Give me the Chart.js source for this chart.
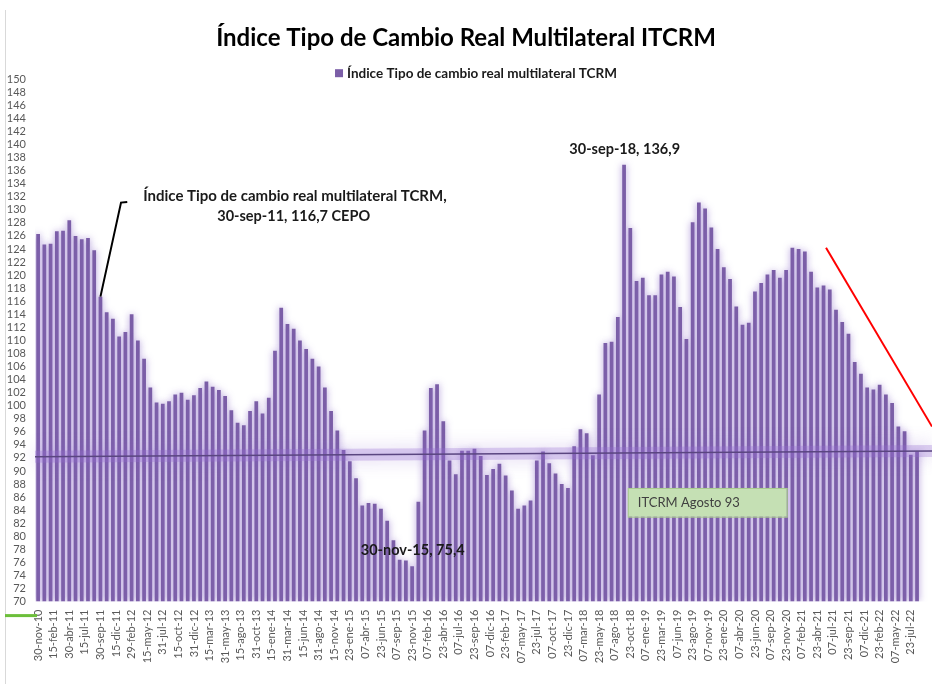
<!DOCTYPE html>
<html lang="es">
<head>
    <meta charset="UTF-8">
    <title>Índice Tipo de Cambio Real Multilateral ITCRM</title>
    <script src="https://cdn.jsdelivr.net/npm/chart.js"></script>
    <style>
        html, body { margin: 0; padding: 0; background: #ffffff; }
        #wrap { position: relative; width: 932px; height: 684px; }
    </style>
</head>
<body>
<div id="wrap"><canvas id="itcrmChart"></canvas></div>
<script>
    // Serie mensual nov-10 .. ago-22
    const valores = [
        126.3, 124.7, 124.8, 126.7, 126.8, 128.4, 126.0, 125.5, 125.7, 123.8,
        116.7, 114.3, 113.3, 110.6, 111.3, 114.0, 110.0, 107.2, 102.8, 100.5,
        100.3, 100.7, 101.7, 102.0, 100.9, 101.6, 102.7, 103.7, 102.9, 102.4,
        101.5, 99.3, 97.4, 97.0, 99.2, 100.7, 98.8, 101.2, 108.4, 115.0,
        112.5, 111.8, 110.0, 108.7, 107.2, 106.0, 102.8, 99.2, 96.2, 93.2,
        91.5, 88.9, 84.7, 85.1, 85.0, 84.2, 82.4, 79.4, 76.4, 76.3,
        75.4, 85.3, 96.2, 102.7, 103.3, 97.6, 91.6, 89.5, 93.1, 93.1,
        93.4, 92.3, 89.4, 90.3, 91.1, 89.3, 87.0, 84.2, 84.7, 85.5,
        91.6, 93.0, 91.2, 89.6, 88.0, 87.4, 93.8, 96.4, 95.8, 92.4,
        101.7, 109.6, 109.8, 113.6, 136.9, 127.2, 119.1, 119.6, 116.9, 116.9,
        120.1, 120.5, 119.8, 115.1, 110.2, 128.1, 131.1, 130.2, 127.3, 124.0,
        121.2, 119.4, 115.2, 112.4, 112.7, 117.5, 118.8, 120.1, 120.8, 119.6,
        120.8, 124.2, 124.0, 123.6, 120.5, 118.1, 118.4, 117.8, 114.7, 112.8,
        111.0, 106.7, 104.9, 102.8, 102.5, 103.2, 101.7, 100.4, 96.8, 96.1,
        92.5, 93.0
    ];

    // Etiquetas del eje X (una cada 2,5 barras)
    const etiquetasX = [
        '30-nov-10', '15-feb-11', '30-abr-11', '15-jul-11', '30-sep-11', '15-dic-11',
        '29-feb-12', '15-may-12', '31-jul-12', '15-oct-12', '31-dic-12', '15-mar-13',
        '31-may-13', '15-ago-13', '31-oct-13', '15-ene-14', '31-mar-14', '15-jun-14',
        '31-ago-14', '15-nov-14', '23-ene-15', '07-abr-15', '23-jun-15', '07-sep-15',
        '23-nov-15', '07-feb-16', '23-abr-16', '07-jul-16', '23-sep-16', '07-dic-16',
        '23-feb-17', '07-may-17', '23-jul-17', '07-oct-17', '23-dic-17', '07-mar-18',
        '23-may-18', '07-ago-18', '23-oct-18', '07-ene-19', '23-mar-19', '07-jun-19',
        '23-ago-19', '07-nov-19', '23-ene-20', '07-abr-20', '23-jun-20', '07-sep-20',
        '23-nov-20', '07-feb-21', '23-abr-21', '07-jul-21', '23-sep-21', '07-dic-21',
        '23-feb-22', '07-may-22', '23-jul-22'
    ];
    const pasoEtiquetas = 2.5;

    // Línea horizontal (ITCRM agosto) y línea roja de tendencia
    const lineaNivelX = [-0.5, 143.4];
    const lineaNivelY = [92.2, 93.05];
    const lineaRojaX = [126.4, 143.4];
    const lineaRojaY = [124.2, 96.8];

    const serieNombre = 'Índice Tipo de cambio real multilateral TCRM';
    const colorBarra = '#7b5ea7';
    const fuente = 'Lato, "Open Sans", sans-serif';

    // Sombra/brillo para datasets que lo pidan
    const brillo = {
        id: 'brillo',
        beforeDatasetDraw(chart, args) {
            const ds = chart.data.datasets[args.index];
            if (!ds.glow) return;
            chart.ctx.save();
            chart.ctx.shadowColor = ds.glow.color;
            chart.ctx.shadowBlur = ds.glow.blur;
        },
        afterDatasetDraw(chart, args) {
            const ds = chart.data.datasets[args.index];
            if (!ds.glow) return;
            chart.ctx.restore();
        }
    };

    // Leyenda, textos y cuadros de anotación
    const anotaciones = {
        id: 'anotaciones',
        afterDraw(chart) {
            const { ctx, scales: { x, y }, chartArea } = chart;
            ctx.save();

            // borde izquierdo y marca verde
            ctx.strokeStyle = '#d9d9d9';
            ctx.lineWidth = 1;
            ctx.beginPath();
            ctx.moveTo(5.5, 10);
            ctx.lineTo(5.5, 684);
            ctx.stroke();
            ctx.strokeStyle = '#6cbf3a';
            ctx.lineWidth = 3;
            ctx.beginPath();
            ctx.moveTo(5, chartArea.bottom + 14);
            ctx.lineTo(chartArea.left + 2, chartArea.bottom + 14);
            ctx.stroke();

            // leyenda (una sola serie)
            ctx.font = 'bold 13.5px ' + fuente;
            ctx.textBaseline = 'middle';
            ctx.textAlign = 'left';
            const anchoTexto = ctx.measureText(serieNombre).width;
            const lx = chart.width / 2 + 10 - (anchoTexto + 12) / 2;
            const ly = chartArea.top - 6;
            ctx.fillStyle = colorBarra;
            ctx.fillRect(lx, ly - 4, 8, 8);
            ctx.fillStyle = '#1a1a1a';
            ctx.fillText(serieNombre, lx + 12, ly);

            ctx.textAlign = 'center';

            // 30-sep-11 (índice 10)
            ctx.font = 'bold 15px ' + fuente;
            ctx.fillText(serieNombre + ',', x.getPixelForValue(41.2), y.getPixelForValue(132.1));
            ctx.font = 'bold 14.5px ' + fuente;
            ctx.fillText('30-sep-11, 116,7 CEPO', x.getPixelForValue(41.0), y.getPixelForValue(129.0));
            ctx.strokeStyle = '#000000';
            ctx.lineWidth = 2;
            ctx.beginPath();
            ctx.moveTo(x.getPixelForValue(10), y.getPixelForValue(valores[10]));
            ctx.lineTo(x.getPixelForValue(13.3), y.getPixelForValue(131.1));
            ctx.lineTo(x.getPixelForValue(14.3), y.getPixelForValue(131.2));
            ctx.stroke();

            // máximo 30-sep-18 (índice 94)
            ctx.fillText('30-sep-18, 136,9', x.getPixelForValue(94.1), y.getPixelForValue(139.2));
            // mínimo 30-nov-15 (índice 60)
            ctx.fillText('30-nov-15, 75,4', x.getPixelForValue(60.1), y.getPixelForValue(77.8));

            // cuadro ITCRM Agosto 93
            const bx = x.getPixelForValue(94.6);
            const by = y.getPixelForValue(87.4);
            const bw = x.getPixelForValue(120.1) - bx;
            const bh = y.getPixelForValue(83.0) - by;
            ctx.fillStyle = '#c5e0b4';
            ctx.fillRect(bx, by, bw, bh);
            ctx.strokeStyle = '#a9c98f';
            ctx.lineWidth = 1;
            ctx.strokeRect(bx + 0.5, by + 0.5, bw, bh);
            ctx.fillStyle = '#404040';
            ctx.textAlign = 'left';
            ctx.font = '13px ' + fuente;
            ctx.fillText('ITCRM Agosto 93', bx + 10, by + bh / 2);

            ctx.restore();
        }
    };

    const ctx = document.getElementById('itcrmChart').getContext('2d');
    const grafico = new Chart(ctx, {
        data: {
            datasets: [
                {
                    type: 'line',
                    label: 'nivel-brillo',
                    data: lineaNivelX.map((v, i) => ({ x: v, y: lineaNivelY[i] })),
                    borderColor: 'rgba(150, 110, 210, 0.3)',
                    borderWidth: 12,
                    pointRadius: 0,
                    glow: { color: 'rgba(140, 100, 205, 0.85)', blur: 18 },
                    clip: 12,
                    order: 2
                },
                {
                    type: 'line',
                    label: 'nivel',
                    data: lineaNivelX.map((v, i) => ({ x: v, y: lineaNivelY[i] })),
                    borderColor: '#5a4680',
                    borderWidth: 1.5,
                    pointRadius: 0,
                    order: 1
                },
                {
                    type: 'line',
                    label: 'tendencia',
                    data: lineaRojaX.map((v, i) => ({ x: v, y: lineaRojaY[i] })),
                    borderColor: '#ff0000',
                    borderWidth: 2,
                    pointRadius: 0,
                    order: 0
                },
                {
                    type: 'bar',
                    label: serieNombre,
                    data: valores.map((v, i) => ({ x: i, y: v })),
                    backgroundColor: colorBarra,
                    base: 70,
                    barPercentage: 0.6,
                    categoryPercentage: 1.0,
                    glow: { color: 'rgba(150, 120, 205, 0.8)', blur: 7 },
                    order: 3
                }
            ]
        },
        options: {
            responsive: true,
            maintainAspectRatio: false,
            animation: false,
            layout: { padding: 0 },
            plugins: {
                tooltip: { enabled: false },
                legend: { display: false },
                title: {
                    display: true,
                    text: 'Índice Tipo de Cambio Real Multilateral ITCRM',
                    color: '#000000',
                    font: { family: fuente, size: 24, weight: 'bold' },
                    padding: { top: 23.6, bottom: 26.8 }
                }
            },
            scales: {
                x: {
                    type: 'linear',
                    offset: false,
                    min: -0.5,
                    max: 143.4,
                    grid: { display: false, drawTicks: false, offset: false },
                    border: { display: false },
                    afterBuildTicks: s => {
                        s.ticks = etiquetasX.map((_, i) => ({ value: i * pasoEtiquetas }));
                    },
                    afterFit: s => {
                        s.height = 82.4;
                        s.paddingLeft = 0;
                        s.paddingRight = 0;
                    },
                    ticks: {
                        autoSkip: false,
                        minRotation: 90,
                        maxRotation: 90,
                        padding: 8,
                        color: '#595959',
                        font: { family: fuente, size: 11 },
                        callback: (value, index) => etiquetasX[index]
                    }
                },
                y: {
                    min: 70,
                    max: 150,
                    grid: { display: false, drawTicks: false },
                    border: { display: false },
                    afterFit: s => {
                        s.width = 35;
                        s.paddingTop = 0;
                        s.paddingBottom = 0;
                    },
                    ticks: {
                        stepSize: 2,
                        autoSkip: false,
                        padding: 9,
                        color: '#595959',
                        font: { family: fuente, size: 11 }
                    }
                }
            }
        },
        plugins: [brillo, anotaciones]
    });
    console.log('chartArea', grafico.chartArea);
</script>
</body>
</html>
